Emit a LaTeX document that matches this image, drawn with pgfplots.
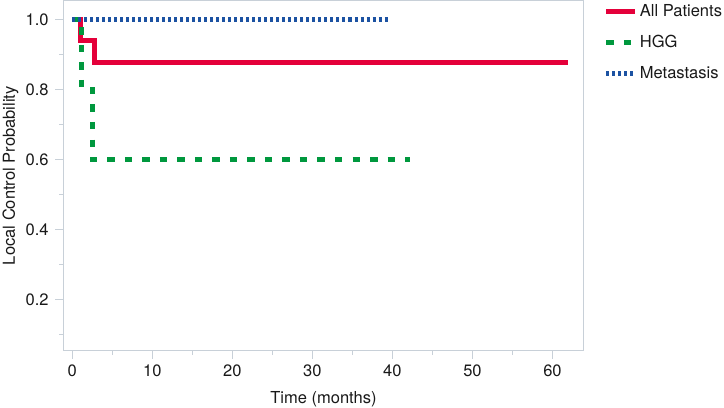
\documentclass[border=0pt]{standalone}
\usepackage{fontspec}
\setmainfont{TeX Gyre Heros}
\usepackage{pgfplots}
\pgfplotsset{compat=1.18}
\definecolor{framegray}{RGB}{200,208,216}
\definecolor{kmred}{RGB}{228,0,58}
\definecolor{kmgreen}{RGB}{0,152,62}
\definecolor{kmblue}{RGB}{28,82,162}
\begin{document}
\fontsize{16.5}{19}\selectfont
\begin{tikzpicture}
\begin{axis}[
  scale only axis, width=520pt, height=350pt,
  xmin=-1.125, xmax=63.9, ymin=0.054, ymax=1.054,
  xtick={0,10,20,30,40,50,60}, minor xtick={5,15,25,35,45,55},
  ytick={0.2,0.4,0.6,0.8,1.0}, minor ytick={0.1,0.3,0.5,0.7,0.9},
  tick align=outside, tick pos=left,
  major tick length=8pt, minor tick length=4pt,
  axis line style={color=framegray, line width=1pt},
  every tick/.style={framegray, line width=1pt},
  every minor tick/.style={framegray, line width=1pt},
  /pgf/number format/assume math mode=true,
  yticklabel style={/pgf/number format/fixed, /pgf/number format/fixed zerofill, /pgf/number format/precision=1, xshift=-1pt},
  ticklabel style={font=\fontsize{16.5}{19}\selectfont, text=black!90},
  xticklabel style={yshift=0pt},
  xlabel={Time (months)}, ylabel={Local Control Probability},
  label style={font=\fontsize{16.5}{19}\selectfont, text=black!90},
  xlabel style={inner sep=0pt, yshift=-9.5pt},
  ylabel style={inner sep=2.5pt, yshift=-1pt},
  legend style={draw=none, at={(1,1)}, anchor=north west, xshift=20pt, yshift=0pt,
    inner xsep=0pt, font=\fontsize{16.5}{19}\selectfont, row sep=12pt, fill=none, text=black!90},
  legend cell align=left,
  legend image code/.code={\draw[#1] (0pt,0pt) -- (29pt,0pt);},
]
\addplot[kmred, line width=5pt, const plot] coordinates {
  (0,1) (1.0,0.941) (2.75,0.878) (61.9,0.878)};
\addlegendentry{All Patients}
\addplot[kmgreen, line width=5pt, const plot, dash pattern=on 7.5pt off 10pt] coordinates {
  (0,1) (1.2,0.8) (2.5,0.6) (42.25,0.6)};
\addlegendentry{HGG}
\addplot[kmblue, line width=5pt, const plot, dash pattern=on 3pt off 3pt] coordinates {
  (0,1) (39.75,1)};
\addlegendentry{Metastasis}
\end{axis}
\end{tikzpicture}
\end{document}
